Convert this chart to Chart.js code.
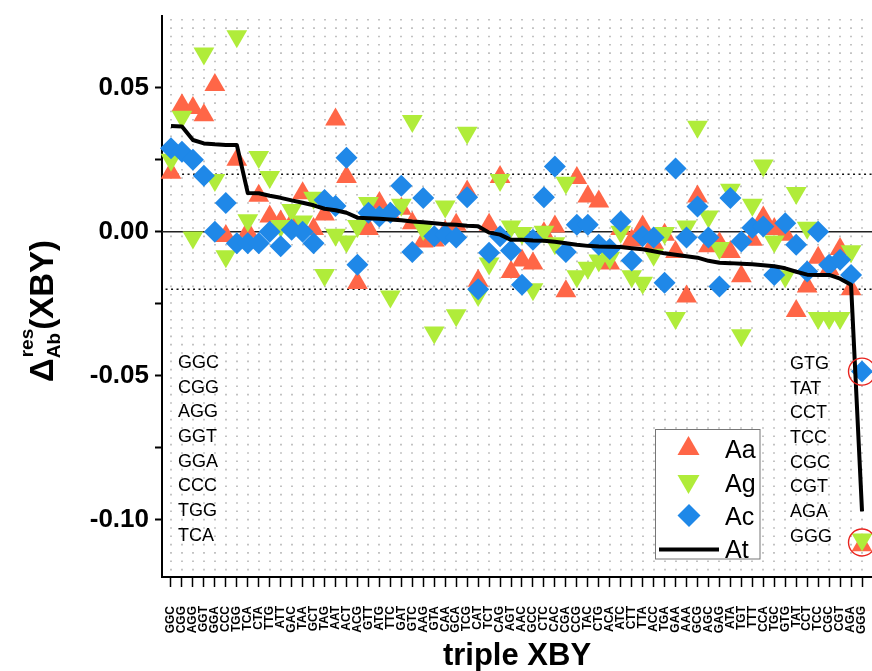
<!DOCTYPE html>
<html><head><meta charset="utf-8">
<script src="https://cdn.jsdelivr.net/npm/chart.js"></script>
<style>html,body{margin:0;padding:0;background:#fff;}canvas{display:block;}</style>
</head><body>
<canvas id="c" width="872" height="671"></canvas>
<script>
// ---- data ----
const xLabels = ['GGC','CGG','AGG','GGT','GGA','CCC','TGG','TCA','CTA','TTG','ATT','GAC','TAA','GCT','TAG','AAT',
 'ACT','ACG','GTT','ATG','TTC','GAT','GTC','AAG','GTA','CAA','GCA','TCG','CAT','TCT','CAG','AGT',
 'AAC','GCC','CTC','CAC','CGA','CCG','TAC','CTG','ACA','ATC','CTT','TTA','ACC','TGA','GAA','AAA',
 'GCG','AGC','GAG','ATA','TGT','TTT','CCA','TGC','GTG','TAT','CCT','TCC','CGC','CGT','AGA','GGG'];
const seriesAa = [0.0205,0.044,0.043,0.0405,0.051,-0.0015,0.025,0.000,0.0125,0.0053,0.0036,0.003,0.0134,0.001,0.006,0.039,
 0.019,-0.0178,0.001,0.010,0.006,0.008,0.003,-0.0034,-0.003,0.000,0.0024,0.014,-0.017,0.0024,0.019,-0.014,
 -0.010,-0.011,-0.0005,0.0018,-0.0207,0.0187,0.0123,0.0105,-0.011,0.001,-0.003,0.0018,-0.004,-0.001,-0.007,-0.0225,
 0.0123,-0.005,-0.004,-0.007,-0.0155,-0.0028,0.005,0.001,-0.001,-0.0275,-0.019,-0.009,-0.013,-0.006,-0.020,-0.109];
const seriesAg = [0.025,0.040,-0.002,0.062,0.018,-0.0085,0.068,0.004,0.026,0.019,0.002,0.0076,0.0036,0.0118,-0.015,-0.001,
 -0.0034,0.002,0.010,0.006,-0.0225,0.0094,0.0385,0.001,-0.035,0.0088,-0.029,0.0344,-0.022,-0.011,0.018,0.0018,
 -0.0004,-0.020,0.000,-0.004,0.017,-0.0155,-0.0125,-0.010,-0.009,0.000,-0.0155,-0.0177,-0.008,-0.0004,-0.030,0.0018,
 0.0365,0.0053,-0.0056,0.0146,-0.036,0.0094,0.023,-0.0034,-0.0155,0.0135,0.0014,-0.030,-0.030,-0.030,-0.0068,-0.107];
const seriesAc = [0.029,0.0278,0.025,0.0195,0.000,0.010,-0.004,-0.004,-0.004,0.000,-0.005,0.0007,0.000,-0.004,0.011,0.009,
 0.0257,-0.0115,0.0066,0.0053,0.0066,0.016,-0.007,0.0117,-0.0016,-0.001,-0.002,0.012,-0.020,-0.0073,-0.0016,-0.0065,
 -0.0184,-0.0028,0.012,0.0227,-0.007,0.0024,0.0024,-0.0045,-0.006,0.0036,-0.010,-0.0016,-0.002,-0.0177,0.022,-0.002,
 0.0088,-0.002,-0.019,0.0117,-0.0034,0.0014,0.0018,-0.015,0.003,-0.0045,-0.0138,0.000,-0.0115,-0.0097,-0.015,-0.0486];
const seriesAt = [0.0368,0.0366,0.0319,0.0307,0.0304,0.0302,0.0302,0.0135,0.0134,0.0125,0.0118,0.0109,0.0101,0.0092,0.0080,0.0075,
 0.0066,0.0049,0.0047,0.0045,0.0043,0.0040,0.0036,0.0033,0.0030,0.0026,0.0024,0.0021,0.0019,-0.0003,-0.0010,-0.0028,
 -0.0028,-0.0030,-0.0031,-0.0035,-0.0040,-0.0045,-0.0049,-0.0051,-0.0052,-0.0053,-0.0057,-0.0061,-0.0068,-0.0075,-0.0080,-0.0085,
 -0.0090,-0.0101,-0.0108,-0.0109,-0.0111,-0.0113,-0.0116,-0.0120,-0.0127,-0.0139,-0.0149,-0.0150,-0.0150,-0.0163,-0.0184,-0.0972];
const yTickValues = [-0.1,-0.075,-0.05,-0.025,0,0.025,0.05];
const refLevels = [0.02, 0, -0.02];
const seriesNames = ['Aa','Ag','Ac','At'];

// ---- styles ----
const colAa = '#FF6647', colAg = '#B0EC3A', colAc = '#1F88E8';
const pts = arr => arr.map((v,i)=>({x:i,y:v}));
const last = xLabels.length - 1;

const refSets = refLevels.map(v => ({
  label:'ref', data:[{x:-2,y:v},{x:last+2,y:v}], showLine:true, pointRadius:0,
  borderColor: v===0 ? '#222' : '#111', borderWidth: v===0 ? 1.3 : 1.6,
  borderDash: v===0 ? [] : [2,3.5], order:10
}));

const datasets = [
  {label:seriesNames[3], data:pts(seriesAt), showLine:true, borderColor:'#000', borderWidth:4,
   pointRadius:0, tension:0, order:0, borderJoinStyle:'round'},
  {label:seriesNames[2], data:pts(seriesAc), pointStyle:'rectRot', pointRadius:11, backgroundColor:colAc,
   borderWidth:0, pointBorderWidth:0, order:1, clip:false},
  {label:seriesNames[1], data:pts(seriesAg), pointStyle:'triangle', rotation:180, pointRadius:12, backgroundColor:colAg,
   borderWidth:0, pointBorderWidth:0, order:2, clip:false},
  {label:seriesNames[0], data:pts(seriesAa), pointStyle:'triangle', pointRadius:12, backgroundColor:colAa,
   borderWidth:0, pointBorderWidth:0, order:3, clip:false},
  {label:'mark', data:[{x:last,y:seriesAc[last]},{x:last,y:(seriesAa[last]+seriesAg[last])/2}],
   pointStyle:'circle', pointRadius:13.5, backgroundColor:'rgba(0,0,0,0)', borderColor:'#E8231E',
   pointBorderWidth:1.4, order:-1, clip:false},
  ...refSets
];

const FONT = "'Liberation Sans', Arial, sans-serif";

const decor = {
  id:'decor',
  beforeDatasetsDraw(chart){
    const {ctx, chartArea:a, scales:{x}} = chart;
    ctx.save();
    ctx.strokeStyle = '#b4b4b4'; ctx.lineWidth = 1.6;
    ctx.setLineDash([1.6, 6.73]); ctx.lineDashOffset = -3;
    xLabels.forEach((_,i)=>{
      const px = Math.round(x.getPixelForValue(i));
      ctx.beginPath(); ctx.moveTo(px, a.top); ctx.lineTo(px, a.bottom-2); ctx.stroke();
    });
    ctx.restore();
  },
  afterDraw(chart){
    const {ctx, chartArea:a} = chart;
    ctx.save();
    ctx.fillStyle = '#000';
    // x title
    ctx.font = "bold 31px " + FONT; ctx.textAlign='center'; ctx.textBaseline='alphabetic';
    ctx.fillText('triple XBY', (a.left+a.right)/2, 665);
    // y title
    ctx.save();
    ctx.translate(53, 311); ctx.rotate(-Math.PI/2);
    const big = "bold 33px " + FONT, small = "bold 19px " + FONT;
    ctx.font = big; const wD = ctx.measureText('\u0394').width, wX = ctx.measureText('(XBY)').width;
    ctx.font = small; const wS = Math.max(ctx.measureText('res').width, ctx.measureText('Ab').width);
    let sx = -(wD + wS + wX)/2;
    ctx.textAlign='left';
    ctx.font = big; ctx.fillText('\u0394', sx, 0); sx += wD;
    ctx.font = small; ctx.fillText('res', sx+1, -20); ctx.fillText('Ab', sx, 7); sx += wS;
    ctx.font = big; ctx.fillText('(XBY)', sx, 0);
    ctx.restore();
    // codon lists
    ctx.font = "18px " + FONT; ctx.textAlign='left'; ctx.textBaseline='middle';
    xLabels.slice(0,8).forEach((t,k)=>ctx.fillText(t, 178, 363 + k*24.7));
    xLabels.slice(-8).forEach((t,k)=>ctx.fillText(t, 790, 364 + k*24.7));
    // legend
    ctx.fillStyle='#fff'; ctx.fillRect(656,430,104,129);
    ctx.strokeStyle='#777'; ctx.lineWidth=1; ctx.strokeRect(655.5,429.5,104.5,129.5);
    const r = 12.7;
    ctx.fillStyle = colAa; ctx.beginPath();
    ctx.moveTo(688.5,448.7-r); ctx.lineTo(688.5+r*0.866,448.7+r/2); ctx.lineTo(688.5-r*0.866,448.7+r/2); ctx.closePath(); ctx.fill();
    ctx.fillStyle = colAg; ctx.beginPath();
    ctx.moveTo(688.5,481.3+r); ctx.lineTo(688.5+r*0.866,481.3-r/2); ctx.lineTo(688.5-r*0.866,481.3-r/2); ctx.closePath(); ctx.fill();
    ctx.fillStyle = colAc; ctx.beginPath();
    const d=11.5, cx=689, cy=515.5;
    ctx.moveTo(cx,cy-d); ctx.lineTo(cx+d,cy); ctx.lineTo(cx,cy+d); ctx.lineTo(cx-d,cy); ctx.closePath(); ctx.fill();
    ctx.strokeStyle='#000'; ctx.lineWidth=4; ctx.beginPath(); ctx.moveTo(659,549.5); ctx.lineTo(719,549.5); ctx.stroke();
    ctx.fillStyle='#000'; ctx.font = "25px " + FONT; ctx.textBaseline='alphabetic';
    [458, 491.5, 525, 558].forEach((yy,k)=>ctx.fillText(seriesNames[k], 725, yy));
    ctx.restore();
  }
};

new Chart(document.getElementById('c'), {
  type:'scatter',
  data:{datasets},
  options:{
    responsive:false, animation:false, devicePixelRatio:1, events:[],
    layout:{autoPadding:false, padding:{top:16,right:0,left:0,bottom:0}},
    plugins:{legend:{display:false}, tooltip:{enabled:false}},
    scales:{
      x:{type:'linear', position:'bottom', min:-0.82, max:63.91,
        afterBuildTicks:s=>{ s.ticks = xLabels.map((_,i)=>({value:i})); },
        afterFit:s=>{ s.height = 94; s.paddingLeft = 0; s.paddingRight = 0; },
        ticks:{autoSkip:false, minRotation:90, maxRotation:90, padding:19, color:'#000',
          font:{family:FONT, weight:'bold', size:12}, callback:v=>xLabels[v]},
        grid:{drawOnChartArea:false, drawTicks:true, tickLength:10, tickColor:'#000', tickWidth:1.5},
        border:{display:true, color:'#000', width:2}
      },
      y:{type:'linear', position:'left', min:-0.12, max:0.075,
        afterBuildTicks:s=>{ s.ticks = yTickValues.map(v=>({value:v})); },
        afterFit:s=>{ s.width = 162; s.paddingTop = 0; s.paddingBottom = 0; },
        ticks:{padding:6, color:'#000', font:{family:FONT, weight:'bold', size:26},
          callback:v=> (Math.abs(Math.round(v*1000)) % 50 === 0) ? v.toFixed(2) : ''},
        grid:{drawOnChartArea:false, drawTicks:true, tickLength:7, tickColor:'#000', tickWidth:2},
        border:{display:true, color:'#000', width:2}
      }
    }
  },
  plugins:[decor]
});
</script>
</body></html>
